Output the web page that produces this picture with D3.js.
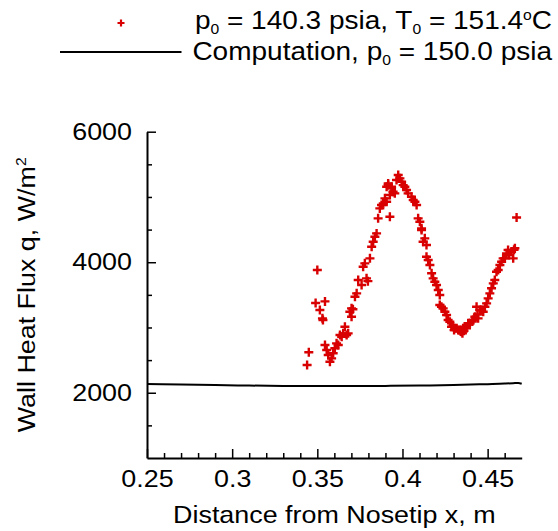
<!DOCTYPE html>
<html><head><meta charset="utf-8">
<script src="https://cdn.jsdelivr.net/npm/d3@7"></script>
<style>body{margin:0;background:#fff}svg{display:block}text{font-family:"Liberation Sans",Arial,Helvetica,sans-serif;fill:#000}</style>
</head><body><svg id="c" width="558" height="531"></svg>
<script>
const xMajorTicks=[0.25,0.3,0.35,0.4,0.45];
const xTickLabels=["0.25","0.3","0.35","0.4","0.45"];
const yMajorTicks=[2000,4000,6000];
const yTickLabels=["2000","4000","6000"];
const expX=[0.344,0.345,0.349,0.350,0.3515,0.353,0.3533,0.3545,0.3545,0.3555,0.3564,0.3574,0.3584,0.3593,0.3603,0.3613,0.3623,0.3633,0.3643,0.3652,0.3662,0.3672,0.3681,0.3691,0.3701,0.3701,0.3709,0.3721,0.3731,0.3740,0.3760,0.3789,0.3797,0.3769,0.3779,0.3809,0.3819,0.3828,0.3838,0.3848,0.3857,0.3926,0.3867,0.3877,0.3887,0.3897,0.3907,0.3907,0.3916,0.3926,0.3936,0.3945,0.3955,0.3965,0.3975,0.3985,0.3995,0.4004,0.4014,0.4024,0.4033,0.4053,0.4063,0.4073,0.4083,0.4092,0.4102,0.4112,0.4112,0.4131,0.4121,0.4141,0.4141,0.4151,0.4161,0.4171,0.4180,0.4190,0.4200,0.4210,0.4219,0.4219,0.4229,0.4239,0.4249,0.4259,0.4268,0.4278,0.4288,0.4298,0.4308,0.4318,0.4327,0.4337,0.4347,0.4352,0.4356,0.4366,0.4376,0.4386,0.4396,0.4415,0.4425,0.4435,0.4444,0.4454,0.4464,0.4474,0.4484,0.4494,0.4503,0.4513,0.4523,0.4533,0.4542,0.4552,0.4562,0.4572,0.4582,0.4591,0.4601,0.4611,0.4620,0.4640,0.4650,0.4660,0.4670,0.3916,0.3936,0.4303,0.4342,0.4361,0.4410,0.4440,0.4625,0.4655];
const expQ=[2425,2620,3375,3880,3267,3140,3114,3400,2731,2655,2578,2475,2527,2604,2681,2757,2731,2884,2858,2910,3012,2884,2910,3241,3293,3165,3280,3471,3523,3727,3650,3753,3710,3931,3983,4059,4237,4314,4390,4442,4672,4697,4825,4876,4902,4979,4927,5156,5208,5029,5132,5080,5055,5259,5336,5285,5233,5182,5156,5106,5055,5003,4953,4927,4876,4672,4620,4519,4493,4366,4314,4263,4084,4033,3957,3830,3753,3701,3650,3574,3497,3344,3318,3293,3241,3191,3114,3088,3012,3012,2987,2987,2961,2961,2935,2910,2987,3012,2987,3064,3064,3114,3165,3318,3140,3267,3267,3241,3318,3370,3446,3523,3600,3676,3727,3854,3880,3957,4008,4059,4059,4136,4187,4161,4059,4213,4685,5182,5156,2960,2940,2950,3090,3200,4110,4190];
const compX=[0.25,0.27,0.29,0.31,0.33,0.35,0.37,0.39,0.41,0.43,0.45,0.46,0.465,0.468,0.47];
const compQ=[2135,2127,2118,2110,2104,2102,2102,2105,2110,2118,2132,2140,2146,2150,2138];

const SX=1.12, FS=24, LFS=25, red="#d80000";
const svg=d3.select("#c");
const x=d3.scaleLinear().domain([0.25,0.47]).range([147,521.7]);
const y=d3.scaleLinear().domain([1000,6000]).range([458,131.7]);

// computation line
svg.append("path").datum(compX.map((v,i)=>[v,compQ[i]]))
  .attr("fill","none").attr("stroke","#000").attr("stroke-width",2)
  .attr("d",d3.line().x(d=>x(d[0])).y(d=>y(d[1])).curve(d3.curveMonotoneX));

// experimental markers
svg.append("g").selectAll("path").data(expX.map((v,i)=>[v,expQ[i]])).join("path")
  .attr("transform",d=>`translate(${x(d[0])},${y(d[1])})`)
  .attr("d","M-4.5,0H4.5M0,-4.5V4.5").attr("stroke",red).attr("stroke-width",2.4).attr("fill","none");

// minor ticks
const xMinor=d3.range(26,47).map(v=>v/100).filter(v=>Math.round(v*100)%5!==0);
const yMinor=d3.range(1500,6000,500).filter(v=>v%2000!==0);
svg.append("g").attr("transform",`translate(0,${y(1000)})`)
  .call(d3.axisBottom(x).tickValues(xMinor).tickSizeInner(-5).tickSizeOuter(0).tickFormat(""))
  .call(g=>g.select(".domain").remove()).selectAll("line").attr("stroke-width",1.5);
svg.append("g").attr("transform",`translate(${x(0.25)},0)`)
  .call(d3.axisLeft(y).tickValues(yMinor).tickSizeInner(-5).tickSizeOuter(0).tickFormat(""))
  .call(g=>g.select(".domain").remove()).selectAll("line").attr("stroke-width",1.5);

// major axes
const gx=svg.append("g").attr("transform",`translate(0,${y(1000)})`)
  .call(d3.axisBottom(x).tickValues(xMajorTicks).tickSizeInner(-9).tickSizeOuter(0).tickPadding(12)
    .tickFormat((d,i)=>xTickLabels[i]));
gx.select(".domain").attr("stroke-width",2);
gx.selectAll("line").attr("stroke-width",1.5);
gx.selectAll("text").attr("font-size",FS).attr("font-family","Liberation Sans, Arial, sans-serif").attr("transform",`scale(${SX},1)`);

const gy=svg.append("g").attr("transform",`translate(${x(0.25)},0)`)
  .call(d3.axisLeft(y).tickValues(yMajorTicks).tickSizeInner(-9).tickSizeOuter(0).tickPadding(15)
    .tickFormat((d,i)=>yTickLabels[i]));
gy.select(".domain").attr("stroke-width",2);
gy.selectAll("line").attr("stroke-width",1.5);
gy.selectAll("text").attr("font-size",FS).attr("font-family","Liberation Sans, Arial, sans-serif")
  .attr("x",-15/SX).attr("transform",`scale(${SX},1)`);

// axis titles
svg.append("text").attr("transform",`translate(${(x(0.25)+x(0.47))/2},523) scale(${SX},1)`)
  .attr("text-anchor","middle").attr("font-size",FS).text("Distance from Nosetip x, m");
const yt=svg.append("text").attr("transform",`translate(35,${(y(1000)+y(6000))/2}) rotate(-90) scale(${SX},1)`)
  .attr("text-anchor","middle").attr("font-size",FS);
yt.append("tspan").text("Wall Heat Flux q, W/m");
yt.append("tspan").attr("font-size",14).attr("dy",-9).text("2");

// legend
svg.append("path").attr("transform","translate(121,23)").attr("d","M-3.5,0H3.5M0,-3.5V3.5")
  .attr("stroke",red).attr("stroke-width",2.2);
svg.append("line").attr("x1",60).attr("x2",181.5).attr("y1",52).attr("y2",52).attr("stroke","#000").attr("stroke-width",2);
const t1=svg.append("text").attr("transform",`translate(552,29) scale(${SX},1)`).attr("text-anchor","end").attr("font-size",LFS);
t1.append("tspan").text("p");
t1.append("tspan").attr("font-size",14).attr("dy",5).text("0");
t1.append("tspan").attr("dy",-5).text(" = 140.3 psia, T");
t1.append("tspan").attr("font-size",14).attr("dy",5).text("0");
t1.append("tspan").attr("dy",-5).text(" = 151.4");
t1.append("tspan").attr("font-size",14).attr("dy",-9).text("o");
t1.append("tspan").attr("dy",9).text("C");
const t2=svg.append("text").attr("transform",`translate(552,60) scale(${SX},1)`).attr("text-anchor","end").attr("font-size",LFS);
t2.append("tspan").text("Computation, p");
t2.append("tspan").attr("font-size",14).attr("dy",5).text("0");
t2.append("tspan").attr("dy",-5).text(" = 150.0 psia");
</script></body></html>
